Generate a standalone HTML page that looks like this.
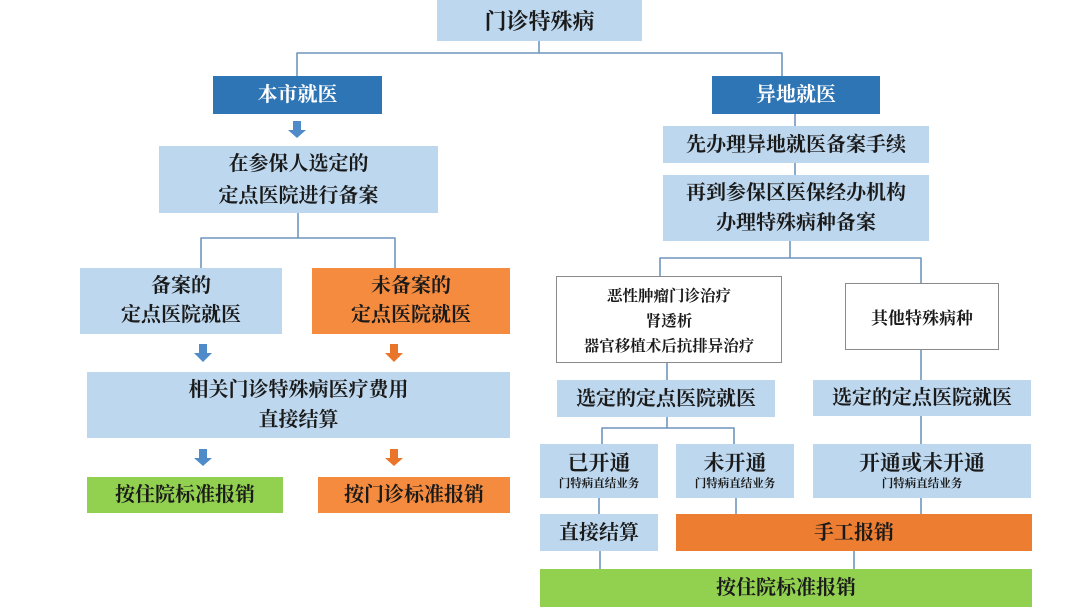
<!DOCTYPE html>
<html><head><meta charset="utf-8">
<style>
html,body{margin:0;padding:0;background:#fff;}
#c{position:relative;width:1080px;height:608px;overflow:hidden;background:#fff;font-family:"Liberation Serif","Noto Serif CJK SC",serif;font-weight:bold;color:#1a1a1a;}
.b{position:absolute;display:flex;flex-direction:column;align-items:center;justify-content:center;text-align:center;box-sizing:border-box;white-space:nowrap;}
.lb{background:#BDD7EE;}
.db{background:#2E75B6;color:#fff;}
.or{background:#F58B3F;}
.or2{background:#ED7D31;}
.gr{background:#92D050;}
.wh{background:#fff;border:1.5px solid #8a8a8a;}
.f20{font-size:20px;line-height:30px;}
.f22{font-size:22px;}
.sm{font-size:11.5px;line-height:16px;}
svg{position:absolute;left:0;top:0;}
</style></head><body>
<div id="c">
<svg width="1080" height="608" viewBox="0 0 1080 608">
<g fill="none" stroke="#6f95bd" stroke-width="1.6" stroke-linejoin="round">
<path d="M539,41 V53 H297 V76"/>
<path d="M539,53 H782 V76"/>
<path d="M795,114 V126"/>
<path d="M795,163 V175"/>
<path d="M298,213 V238 H201 V268"/>
<path d="M298,238 H395 V268"/>
<path d="M790,241 V258 H660 V276"/>
<path d="M790,258 H921 V283"/>
<path d="M667,363 V380"/>
<path d="M921,350 V380"/>
<path d="M667,417 V428 H602 V444"/>
<path d="M667,428 H734 V444"/>
<path d="M921,416 V444"/>
<path d="M599,498 V514"/>
<path d="M736,498 V514"/>
<path d="M921,498 V514"/>
<path d="M600,551 V569"/>
<path d="M854,551 V569"/>
</g>
<g fill="#4F8BC9">
<polygon points="293,121 301,121 301,130 306,130 297,138 288,130 293,130"/>
<polygon points="199,344 207,344 207,353 212,353 203,362 194,353 199,353"/>
<polygon points="199,449 207,449 207,458 212,458 203,466 194,458 199,458"/>
</g>
<g fill="#E8752A">
<polygon points="390,344 398,344 398,353 403,353 394,362 385,353 390,353"/>
<polygon points="390,449 398,449 398,458 403,458 394,466 385,458 390,458"/>
</g>
</svg>

<div class="b lb f22" style="left:437px;top:0;width:205px;height:41px;">门诊特殊病</div>
<div class="b db f20" style="left:213px;top:76px;width:169px;height:38px;">本市就医</div>
<div class="b db f20" style="left:712px;top:76px;width:168px;height:38px;">异地就医</div>
<div class="b lb f20" style="left:159px;top:146px;width:279px;height:67px;line-height:32px;">在参保人选定的<br>定点医院进行备案</div>
<div class="b lb f20" style="left:663px;top:126px;width:266px;height:37px;">先办理异地就医备案手续</div>
<div class="b lb f20" style="left:663px;top:175px;width:266px;height:66px;line-height:30px;">再到参保区医保经办机构<br>办理特殊病种备案</div>

<div class="b lb f20" style="left:80px;top:268px;width:202px;height:66px;line-height:29px;">备案的<br>定点医院就医</div>
<div class="b or f20" style="left:312px;top:268px;width:198px;height:66px;line-height:29px;">未备案的<br>定点医院就医</div>
<div class="b lb f20" style="left:87px;top:372px;width:423px;height:66px;line-height:30px;">相关门诊特殊病医疗费用<br>直接结算</div>
<div class="b gr f20" style="left:87px;top:477px;width:196px;height:36px;">按住院标准报销</div>
<div class="b or f20" style="left:318px;top:477px;width:192px;height:36px;">按门诊标准报销</div>

<div class="b wh" style="left:556px;top:276px;width:226px;height:87px;font-size:15.5px;line-height:25px;padding-top:4px;">恶性肿瘤门诊治疗<br>肾透析<br>器官移植术后抗排异治疗</div>
<div class="b wh" style="left:845px;top:283px;width:154px;height:67px;font-size:17px;">其他特殊病种</div>
<div class="b lb f20" style="left:557px;top:380px;width:218px;height:37px;">选定的定点医院就医</div>
<div class="b lb f20" style="left:813px;top:380px;width:218px;height:36px;">选定的定点医院就医</div>

<div class="b lb" style="left:540px;top:444px;width:118px;height:54px;"><div style="font-size:21px;line-height:26px;">已开通</div><div class="sm">门特病直结业务</div></div>
<div class="b lb" style="left:676px;top:444px;width:118px;height:54px;"><div style="font-size:21px;line-height:26px;">未开通</div><div class="sm">门特病直结业务</div></div>
<div class="b lb" style="left:813px;top:444px;width:218px;height:54px;"><div style="font-size:21px;line-height:26px;">开通或未开通</div><div class="sm">门特病直结业务</div></div>

<div class="b lb f20" style="left:540px;top:514px;width:118px;height:37px;">直接结算</div>
<div class="b or2 f20" style="left:676px;top:514px;width:356px;height:37px;">手工报销</div>
<div class="b gr f20" style="left:540px;top:569px;width:492px;height:38px;">按住院标准报销</div>
</div>
</body></html>
